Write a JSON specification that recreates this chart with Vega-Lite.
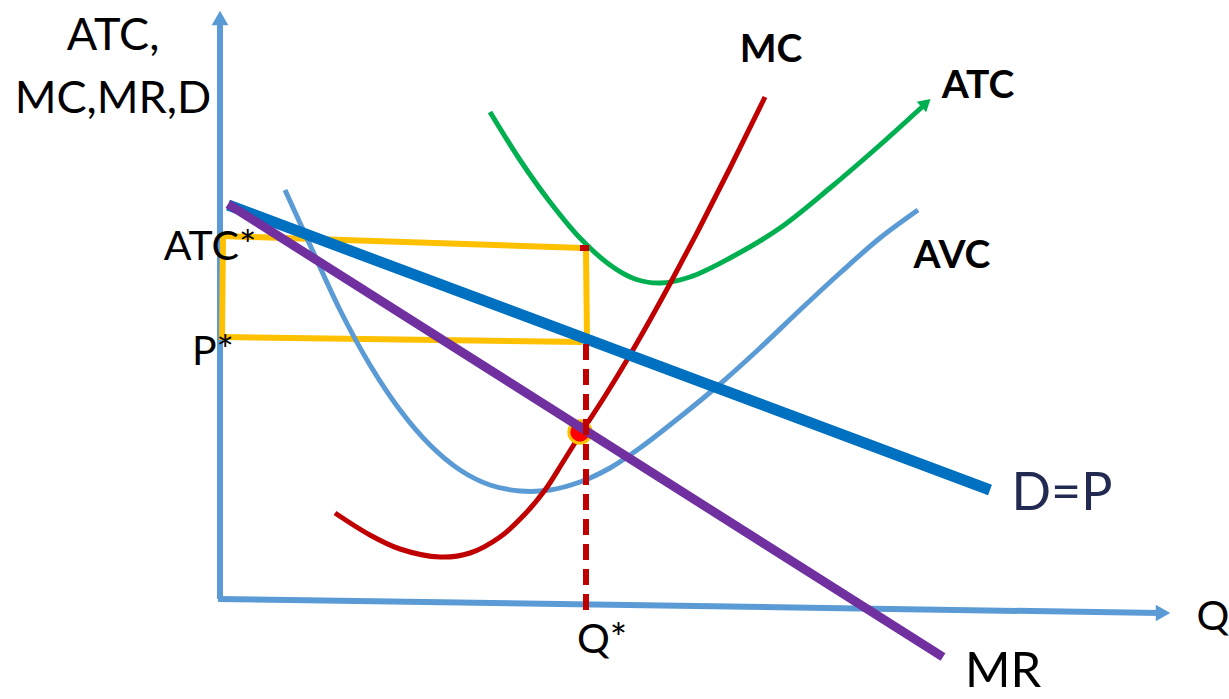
{
  "$schema": "https://vega.github.io/schema/vega-lite/v6.json",
  "width": 1229,
  "height": 699,
  "padding": 0,
  "autosize": {"type": "none"},
  "config": {"view": {"stroke": null}, "axis": {"disable": true}},
  "datasets": {
    "axes": [
      {"name": "P axis", "x": 220, "y": 599, "x2": 220, "y2": 22},
      {"name": "Q axis", "x": 218, "y": 599, "x2": 1160, "y2": 613}
    ],
    "arrowUp": [{"name": "P axis head", "x": 220, "y": 18}],
    "arrowRight": [{"name": "Q axis head", "x": 1163, "y": 613}],
    "arrowAtc": [{"name": "ATC head", "x": 926, "y": 103}],
    "demand": [{"name": "D=P", "x": 228, "y": 205, "x2": 990, "y2": 490}],
    "mr": [{"name": "MR", "x": 228, "y": 204, "x2": 943, "y2": 657}],
    "rect": [
      {"side": "top", "x": 222, "y": 236, "x2": 583, "y2": 248},
      {"side": "right", "x": 586, "y": 250, "x2": 587, "y2": 340},
      {"side": "bottom", "x": 222, "y": 337, "x2": 582, "y2": 342},
      {"side": "left", "x": 223, "y": 236, "x2": 222, "y2": 340}
    ],
    "redTick": [{"x": 580, "y": 248, "x2": 589, "y2": 248}],
    "dash": [{"x": 586, "y": 344, "x2": 586, "y2": 616}],
    "atc": [
      {"x": 490, "y": 112}, {"x": 520, "y": 160}, {"x": 550, "y": 202}, {"x": 580, "y": 238},
      {"x": 610, "y": 265}, {"x": 635, "y": 279}, {"x": 660, "y": 283}, {"x": 690, "y": 277},
      {"x": 730, "y": 258}, {"x": 780, "y": 228}, {"x": 830, "y": 188}, {"x": 880, "y": 145},
      {"x": 922, "y": 107}
    ],
    "avc": [
      {"x": 285, "y": 190}, {"x": 310, "y": 245}, {"x": 340, "y": 310}, {"x": 370, "y": 365},
      {"x": 400, "y": 410}, {"x": 430, "y": 445}, {"x": 460, "y": 470}, {"x": 490, "y": 485},
      {"x": 520, "y": 491}, {"x": 550, "y": 490}, {"x": 580, "y": 482}, {"x": 610, "y": 468},
      {"x": 640, "y": 448}, {"x": 680, "y": 417}, {"x": 720, "y": 384}, {"x": 760, "y": 348},
      {"x": 800, "y": 310}, {"x": 840, "y": 273}, {"x": 880, "y": 238}, {"x": 918, "y": 210}
    ],
    "mc": [
      {"x": 335, "y": 513}, {"x": 370, "y": 535}, {"x": 400, "y": 549}, {"x": 440, "y": 557},
      {"x": 470, "y": 553}, {"x": 500, "y": 537}, {"x": 525, "y": 514}, {"x": 545, "y": 490},
      {"x": 563, "y": 462}, {"x": 583, "y": 430}, {"x": 605, "y": 396}, {"x": 627, "y": 360},
      {"x": 650, "y": 320}, {"x": 672, "y": 280}, {"x": 700, "y": 227}, {"x": 730, "y": 168},
      {"x": 765, "y": 97}
    ],
    "dot": [{"name": "profit max", "x": 580, "y": 432}],
    "labelsA": [
      {"text": "ATC,", "x": 113, "y": 50},
      {"text": "MC,MR,D", "x": 113, "y": 113}
    ],
    "labelsB": [
      {"text": "ATC*", "x": 210, "y": 260, "align": "right"},
      {"text": "P*", "x": 213, "y": 365, "align": "right"},
      {"text": "Q*", "x": 602, "y": 653, "align": "center"},
      {"text": "Q", "x": 1213, "y": 630, "align": "center"}
    ],
    "labelsMR": [{"text": "MR", "x": 1003, "y": 697}],
    "labelsD": [{"text": "D=P", "x": 1062, "y": 510}],
    "labelsBold": [
      {"text": "MC", "x": 771, "y": 62},
      {"text": "ATC", "x": 978, "y": 98},
      {"text": "AVC", "x": 952, "y": 268}
    ]
  },
  "encoding": {
    "x": {"field": "x", "type": "quantitative", "scale": {"domain": [0, 1229], "nice": false, "zero": false}, "axis": null},
    "y": {"field": "y", "type": "quantitative", "scale": {"domain": [0, 699], "nice": false, "zero": false, "reverse": true}, "axis": null}
  },
  "layer": [
    {"data": {"name": "axes"}, "mark": {"type": "rule", "color": "#5b9bd5", "strokeWidth": 6},
     "encoding": {"x2": {"field": "x2"}, "y2": {"field": "y2"}}},
    {"data": {"name": "arrowUp"}, "mark": {"type": "point", "shape": "triangle-up", "filled": true, "color": "#5b9bd5", "size": 280, "opacity": 1}},
    {"data": {"name": "arrowRight"}, "mark": {"type": "point", "shape": "triangle-right", "filled": true, "color": "#5b9bd5", "size": 280, "opacity": 1}},
    {"data": {"name": "rect"}, "mark": {"type": "rule", "color": "#ffc000", "strokeWidth": 6},
     "encoding": {"x2": {"field": "x2"}, "y2": {"field": "y2"}}},
    {"data": {"name": "avc"}, "mark": {"type": "line", "color": "#5b9bd5", "strokeWidth": 5, "interpolate": "catmull-rom"}},
    {"data": {"name": "atc"}, "mark": {"type": "line", "color": "#00b050", "strokeWidth": 5, "interpolate": "catmull-rom"}},
    {"data": {"name": "arrowAtc"}, "mark": {"type": "point", "shape": "triangle-up", "filled": true, "color": "#00b050", "size": 200, "angle": 48, "opacity": 1}},
    {"data": {"name": "mc"}, "mark": {"type": "line", "color": "#c00000", "strokeWidth": 5, "interpolate": "catmull-rom"}},
    {"data": {"name": "demand"}, "mark": {"type": "rule", "color": "#0070c0", "strokeWidth": 11},
     "encoding": {"x2": {"field": "x2"}, "y2": {"field": "y2"}}},
    {"data": {"name": "dot"}, "mark": {"type": "point", "shape": "circle", "filled": true, "fill": "#ff0000", "stroke": "#ffc000", "strokeWidth": 3, "size": 500, "opacity": 1}},
    {"data": {"name": "mr"}, "mark": {"type": "rule", "color": "#7030a0", "strokeWidth": 9},
     "encoding": {"x2": {"field": "x2"}, "y2": {"field": "y2"}}},
    {"data": {"name": "redTick"}, "mark": {"type": "rule", "color": "#c00000", "strokeWidth": 6},
     "encoding": {"x2": {"field": "x2"}, "y2": {"field": "y2"}}},
    {"data": {"name": "dash"}, "mark": {"type": "rule", "color": "#c00000", "strokeWidth": 6, "strokeDash": [16, 9]},
     "encoding": {"x2": {"field": "x2"}, "y2": {"field": "y2"}}},
    {"data": {"name": "labelsA"}, "mark": {"type": "text", "font": "Lato", "fontSize": 45, "color": "#000000", "align": "center", "baseline": "alphabetic"},
     "encoding": {"text": {"field": "text"}}},
    {"data": {"name": "labelsB"}, "mark": {"type": "text", "font": "Lato", "fontSize": 41, "color": "#000000", "baseline": "alphabetic"},
     "encoding": {"text": {"field": "text"}, "align": {"field": "align", "scale": null}}},
    {"data": {"name": "labelsMR"}, "mark": {"type": "text", "font": "Lato", "fontSize": 49, "color": "#000000", "align": "center", "baseline": "bottom"},
     "encoding": {"text": {"field": "text"}}},
    {"data": {"name": "labelsD"}, "mark": {"type": "text", "font": "Lato", "fontSize": 52, "color": "#232a52", "align": "center", "baseline": "alphabetic"},
     "encoding": {"text": {"field": "text"}}},
    {"data": {"name": "labelsBold"}, "mark": {"type": "text", "font": "Lato", "fontSize": 39, "fontWeight": "bold", "color": "#000000", "align": "center", "baseline": "alphabetic"},
     "encoding": {"text": {"field": "text"}}}
  ]
}
